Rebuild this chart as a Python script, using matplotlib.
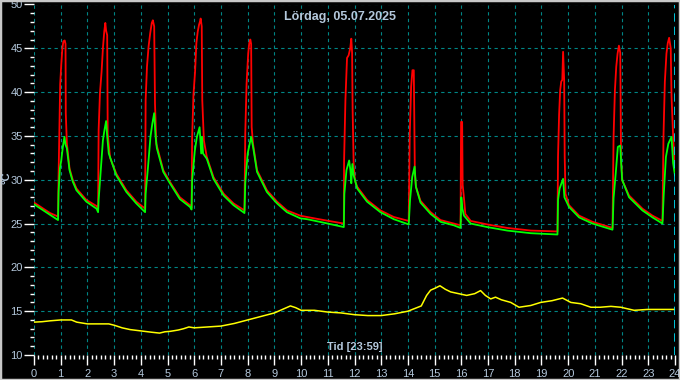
import matplotlib
matplotlib.use("Agg")
import matplotlib.pyplot as plt
from matplotlib.patches import Rectangle
from matplotlib.ticker import MultipleLocator

# data (time in hours, temperature in °C)
red_t = [0, 0.3, 0.6, 0.9, 0.92, 0.95, 0.98, 1.02, 1.06, 1.10, 1.15, 1.18, 1.19, 1.23, 1.33, 1.45, 1.59, 1.96, 2.34, 2.40,
         2.42, 2.47, 2.53, 2.58, 2.63, 2.67, 2.70, 2.74, 2.76, 2.85, 3.08, 3.46, 3.83, 4.16,
         4.18, 4.23, 4.29, 4.35, 4.41, 4.45, 4.50, 4.53, 4.58, 4.71, 4.84, 5.09, 5.46, 5.84, 5.90,
         5.92, 5.97, 6.03, 6.08, 6.13, 6.18, 6.21, 6.24, 6.28, 6.30, 6.36, 6.47, 6.72, 7.10, 7.47, 7.88,
         7.91, 7.96, 8.02, 8.06, 8.10, 8.13, 8.15, 8.20, 8.35, 8.72, 9.10, 9.47, 9.97, 10.22, 10.85, 11.60,
         11.61, 11.66, 11.72, 11.78, 11.84, 11.88, 11.91, 11.93, 11.97, 12.02, 12.10, 12.47, 12.97, 13.47, 14.03,
         14.07, 14.12, 14.17, 14.22, 14.26, 14.30, 14.47, 14.85, 15.22, 15.72, 15.97,
         15.99, 16.03, 16.05, 16.09, 16.15, 16.35, 16.97, 17.72, 18.60, 19.60,
         19.62, 19.66, 19.70, 19.74, 19.78, 19.81, 19.85, 19.87, 19.90, 20.03, 20.41, 20.91, 21.66,
         21.70, 21.75, 21.80, 21.85, 21.90, 21.95, 21.98, 22.03, 22.28, 22.78, 23.16, 23.53,
         23.57, 23.62, 23.68, 23.73, 23.78, 23.84, 23.87, 23.92, 23.97, 24.0]
red_v = [27.4, 26.8, 26.2, 25.8, 30.4, 35.7, 40.9, 43.1, 44.9, 45.8, 45.9, 45.5, 37.6, 34.2, 31.3, 30.0, 29.0, 27.7, 27.0, 26.7,
         35.7, 39.9, 42.3, 45.0, 46.9, 47.9, 47.0, 46.5, 35.3, 32.5, 30.7, 28.8, 27.5, 26.7,
         39.1, 42.9, 45.2, 46.7, 47.9, 48.2, 47.5, 38.7, 34.1, 32.6, 31.1, 29.75, 28.0, 27.1, 26.8,
         34.7, 39.7, 42.3, 45.6, 46.9, 47.7, 48.0, 48.4, 47.5, 39.1, 34.5, 32.6, 30.3, 28.4, 27.3, 26.5,
         35.3, 41.0, 44.4, 45.6, 46.0, 45.5, 36.0, 34.1, 31.1, 28.8, 27.5, 26.5, 25.9, 25.75, 25.4, 25.0,
         32.2, 39.1, 43.9, 44.2, 45.0, 46.1, 44.5, 37.9, 31.5, 29.9, 29.2, 27.7, 26.5, 25.75, 25.3,
         35.3, 40.6, 42.5, 42.5, 30.7, 29.2, 27.6, 26.3, 25.4, 25.0, 24.8,
         36.6, 36.6, 29.4, 28.2, 26.1, 25.3, 24.9, 24.5, 24.2, 24.1,
         32.6, 37.4, 40.2, 41.2, 41.4, 44.6, 41.4, 32.6, 28.4, 27.1, 25.9, 25.2, 24.5,
         34.9, 40.2, 42.9, 44.4, 45.3, 44.5, 32.2, 29.9, 28.2, 26.7, 25.9, 25.3,
         35.1, 41.2, 44.4, 45.6, 46.2, 45.0, 39.5, 35.7, 32.6, 31.0]

green_t = [0, 0.3, 0.6, 0.9, 0.92, 0.97, 1.02, 1.08, 1.14, 1.18, 1.23, 1.33, 1.45, 1.59, 1.96, 2.34, 2.40,
           2.42, 2.50, 2.58, 2.64, 2.70, 2.74, 2.80, 3.08, 3.46, 3.83, 4.16,
           4.18, 4.27, 4.36, 4.43, 4.50, 4.55, 4.60, 4.84, 5.09, 5.46, 5.84, 5.90,
           5.92, 6.02, 6.10, 6.20, 6.26, 6.29, 6.33, 6.47, 6.72, 7.10, 7.47, 7.88,
           7.91, 8.00, 8.13, 8.20, 8.35, 8.72, 9.10, 9.47, 9.97, 10.22, 10.85, 11.60,
           11.62, 11.70, 11.80, 11.85, 11.88, 11.92, 11.97, 12.10, 12.47, 12.97, 13.47, 14.03,
           14.08, 14.16, 14.25, 14.30, 14.47, 14.85, 15.22, 15.72, 15.97,
           16.00, 16.04, 16.10, 16.35, 16.97, 17.72, 18.60, 19.60,
           19.62, 19.68, 19.75, 19.81, 19.86, 20.03, 20.41, 20.91, 21.66,
           21.70, 21.78, 21.86, 21.95, 22.02, 22.28, 22.78, 23.16, 23.53,
           23.58, 23.66, 23.75, 23.87, 23.93, 24.0]
green_v = [27.2, 26.6, 26.0, 25.4, 28.6, 31.3, 32.2, 33.75, 34.9, 34.0, 33.6, 31.1, 29.8, 28.8, 27.5, 26.7, 26.3,
           27.7, 31.1, 34.5, 35.7, 36.7, 35.0, 33.0, 30.5, 28.6, 27.3, 26.3,
           28.4, 31.5, 34.9, 36.4, 37.6, 35.0, 33.6, 30.9, 29.6, 27.8, 26.9, 26.6,
           29.9, 33.3, 34.9, 36.0, 33.0, 34.9, 33.0, 32.4, 30.1, 28.2, 27.1, 26.2,
           29.6, 33.0, 34.9, 33.8, 30.9, 28.6, 27.3, 26.3, 25.6, 25.5, 25.1, 24.6,
           28.4, 31.1, 32.2, 31.0, 29.6, 31.8, 30.5, 29.0, 27.5, 26.3, 25.5, 24.9,
           27.7, 30.3, 31.5, 29.2, 27.4, 26.1, 25.2, 24.8, 24.5,
           28.0, 26.7, 25.9, 25.0, 24.6, 24.2, 23.9, 23.75,
           27.7, 29.0, 29.6, 30.1, 28.0, 26.9, 25.7, 25.0, 24.3,
           27.9, 30.7, 33.75, 33.9, 30.0, 28.0, 26.5, 25.7, 25.0,
           28.4, 32.6, 34.1, 34.9, 31.9, 30.5]

yellow_t = [0, 0.3, 0.6, 1.0, 1.4, 1.6, 2.0, 2.8, 3.0, 3.3, 3.6, 4.0, 4.4, 4.7, 4.9, 5.1, 5.4, 5.6, 5.8, 6.0,
            6.5, 7.0, 7.5, 8.0, 8.5, 9.0, 9.3, 9.6, 9.8, 10.0, 10.5, 11.0, 11.5, 12.0, 12.5, 13.0, 13.5, 14.0,
            14.5, 14.7, 14.85, 15.0, 15.2, 15.4, 15.6, 15.9, 16.2, 16.5, 16.72, 16.9, 17.1, 17.28, 17.5, 17.85,
            18.16, 18.6, 18.97, 19.4, 19.79, 20.1, 20.47, 20.85, 21.2, 21.6, 21.97, 22.47, 22.97, 23.5, 24.0]
yellow_v = [13.75, 13.8, 13.9, 14.0, 14.0, 13.75, 13.55, 13.55, 13.4, 13.1, 12.9, 12.75, 12.6, 12.5, 12.65, 12.7, 12.85, 13.0, 13.2, 13.1,
            13.2, 13.3, 13.6, 14.0, 14.4, 14.8, 15.2, 15.6, 15.4, 15.1, 15.1, 14.9, 14.8, 14.6, 14.5, 14.5, 14.7, 15.0,
            15.6, 16.8, 17.4, 17.6, 17.9, 17.5, 17.2, 17.0, 16.8, 17.0, 17.35, 16.8, 16.4, 16.6, 16.3, 16.0,
            15.45, 15.65, 16.0, 16.2, 16.5, 16.0, 15.85, 15.45, 15.45, 15.55, 15.45, 15.1, 15.2, 15.2, 15.2]

title = "Lördag, 05.07.2025"
xlabel = "Tid [23:59]"
txt_col = "#b4c8dc"

plt.rcParams['font.family'] = ['Liberation Sans', 'DejaVu Sans']

fig = plt.figure(figsize=(6.8, 3.8), dpi=100, facecolor="black")
ax = fig.add_axes([34 / 680, 1 - 355 / 380, 641 / 680, 350.5 / 380])
ax.set_facecolor("black")

ax.plot(red_t, red_v, color="#ff0000", lw=1.3, zorder=3)
ax.plot(green_t, green_v, color="#00ff00", lw=1.3, zorder=4)
ax.plot(yellow_t, yellow_v, color="#ffff00", lw=1.1, zorder=5)

ax.set_xlim(0, 24)
ax.set_ylim(10, 50)
ax.xaxis.set_major_locator(MultipleLocator(1))
ax.xaxis.set_minor_locator(MultipleLocator(1 / 6))
ax.yaxis.set_major_locator(MultipleLocator(5))
ax.yaxis.set_minor_locator(MultipleLocator(1))
ax.grid(True, which="major", color="#008585", linestyle=(0, (3, 3)), lw=0.8)
ax.axvline(24, color="#00e5ff", linestyle=(0, (5, 3)), lw=1.2, zorder=6)

for s in ax.spines.values():
    s.set_visible(False)
ax.tick_params(which="major", length=7, color="white", width=1, labelcolor=txt_col, labelsize=8)
ax.tick_params(which="minor", length=3, color="white", width=1)
ax.tick_params(axis="x", pad=3)
ax.tick_params(axis="y", pad=1)

fig.text(0.5, 1 - 17 / 380, title, color=txt_col, fontsize=9, fontweight="bold", ha="center", va="center")
fig.text(355 / 680, 1 - 347 / 380, xlabel, color=txt_col, fontsize=8, fontweight="bold", ha="center", va="center")
fig.text(7 / 680, 1 - 178 / 380, "°C", color=txt_col, fontsize=8, fontweight="bold", ha="center", va="center", rotation=90)

fig.patches.append(Rectangle((0, 0), 1, 1, transform=fig.transFigure, fill=False,
                             edgecolor="#c8c8c8", lw=2.5))

fig.savefig("out.png", dpi=100, facecolor="black")
